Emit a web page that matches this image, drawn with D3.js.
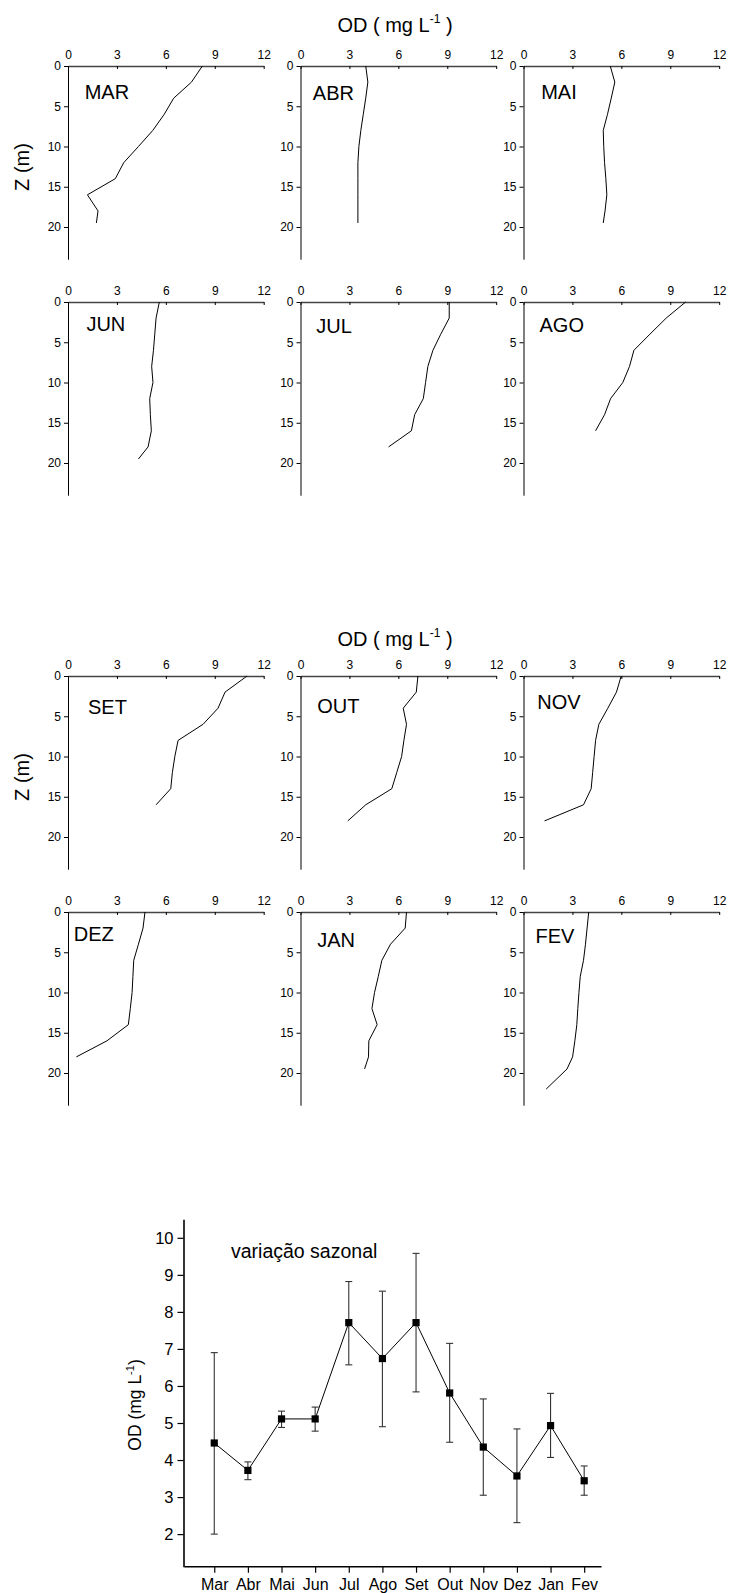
<!DOCTYPE html>
<html><head><meta charset="utf-8">
<script src="https://cdn.jsdelivr.net/npm/d3@7"></script>
<style>
body{margin:0;background:#fff}
svg{display:block;font-family:"Liberation Sans",Arial,Helvetica,sans-serif}
text{white-space:pre}
</style></head><body><div id="chart"></div>
<script>
// ---------- Depth profiles (OD mg/L vs depth m) ----------
const profileNames = ["MAR","ABR","MAI","JUN","JUL","AGO","SET","OUT","NOV","DEZ","JAN","FEV"];
const depthMAR = [0,2,4,6,8,10,12,14,16,18,19.5];
const odMAR    = [8.24,7.57,6.48,5.9,5.2,4.32,3.42,2.9,1.19,1.84,1.74];
const depthABR = [0,2,4,6,8,10,12,14,16,18,19.5];
const odABR    = [4.0,4.13,4.0,3.85,3.7,3.58,3.52,3.52,3.52,3.52,3.52];
const depthMAI = [0,2,4,6,8,10,12,14,16,18,19.5];
const odMAI    = [5.32,5.6,5.38,5.15,4.89,4.92,4.97,5.05,5.11,5.0,4.89];
const depthJUN = [0,2,4,6,8,10,12,14,16,18,19.5];
const odJUN    = [5.6,5.4,5.32,5.24,5.13,5.21,5.01,5.05,5.11,4.91,4.32];
const depthJUL = [0,2,4,6,8,10,12,14,16,18];
const odJUL    = [9.12,9.12,8.6,8.12,7.81,7.67,7.53,7.0,6.8,5.4];
const depthAGO = [0,2,4,6,8,10,12,14,16];
const odAGO    = [9.94,8.75,7.75,6.77,6.5,6.09,5.34,4.97,4.42];
const depthSET = [0,2,4,6,8,10,12,14,16];
const odSET    = [10.98,9.63,9.2,8.28,6.75,6.55,6.4,6.3,5.4];
const depthOUT = [0,2,4,6,8,10,12,14,16,18];
const odOUT    = [7.2,7.1,6.3,6.5,6.34,6.2,5.9,5.6,4.0,2.9];
const depthNOV = [0,2,4,6,8,10,12,14,16,18];
const odNOV    = [5.99,5.7,5.17,4.62,4.42,4.33,4.24,4.15,3.68,1.29];
const depthDEZ = [0,2,4,6,8,10,12,14,16,18];
const odDEZ    = [4.72,4.6,4.32,4.03,3.98,3.93,3.82,3.7,2.39,0.51];
const depthJAN = [0,2,4,6,8,10,12,14,16,18,19.5];
const odJAN    = [6.5,6.42,5.52,4.99,4.77,4.54,4.38,4.7,4.19,4.17,3.93];
const depthFEV = [0,2,4,6,8,10,12,14,16,18,19.5,22];
const odFEV    = [4.0,3.9,3.8,3.68,3.48,3.4,3.33,3.27,3.15,3.01,2.67,1.39];

const odTicks = [0,3,6,9,12];
const depthTicks = [0,5,10,15,20];

// ---------- Seasonal variation ----------
const seasonMonths = ["Mar","Abr","Mai","Jun","Jul","Ago","Set","Out","Nov","Dez","Jan","Fev"];
const seasonMean  = [4.46,3.72,5.11,5.11,7.71,6.74,7.71,5.81,4.35,3.57,4.93,3.44];
const seasonUpper = [6.90,3.95,5.32,5.43,8.82,8.56,9.58,7.15,5.65,4.84,5.80,3.84];
const seasonLower = [2.00,3.47,4.88,4.78,6.57,4.90,5.84,4.48,3.05,2.31,4.07,3.05];
const seasonTicks = [2,3,4,5,6,7,8,9,10];

const profiles = [
  {name:"MAR", depth:depthMAR, od:odMAR},
  {name:"ABR", depth:depthABR, od:odABR},
  {name:"MAI", depth:depthMAI, od:odMAI},
  {name:"JUN", depth:depthJUN, od:odJUN},
  {name:"JUL", depth:depthJUL, od:odJUL},
  {name:"AGO", depth:depthAGO, od:odAGO},
  {name:"SET", depth:depthSET, od:odSET},
  {name:"OUT", depth:depthOUT, od:odOUT},
  {name:"NOV", depth:depthNOV, od:odNOV},
  {name:"DEZ", depth:depthDEZ, od:odDEZ},
  {name:"JAN", depth:depthJAN, od:odJAN},
  {name:"FEV", depth:depthFEV, od:odFEV}
];

const W = 731, H = 1593;
const svg = d3.select("#chart").append("svg").attr("width", W).attr("height", H);
svg.append("rect").attr("width", W).attr("height", H).attr("fill", "#fff");

// layout
const colX = [68, 300.5, 523.5];
const rowY = [66, 302, 676, 912];
const pW = 195.7, pH = 193.2;
const labelOff = [[16.7,33],[12.3,33.7],[17.7,33],[18.4,29],[15.7,31.3],[16,29.7],
                  [20,37.7],[16.7,37],[13.7,33],[5.7,29.4],[16.7,35.4],[12,31]];

function styleAxis(g, size){
  g.attr("font-family", null).attr("font-size", size);
  g.selectAll("text").attr("fill", "#000");
  g.selectAll("line,path").attr("stroke", "#000");
}

profiles.forEach((p, i) => {
  const r = Math.floor(i / 3), c = i % 3;
  const g = svg.append("g").attr("transform", `translate(${colX[c]},${rowY[r]})`);
  const x = d3.scaleLinear().domain([0, 12]).range([0, pW]);
  const y = d3.scaleLinear().domain([0, 24]).range([0, pH]);
  const ax = g.append("g").call(d3.axisTop(x).tickValues(odTicks).tickSizeInner(-3).tickSizeOuter(0).tickPadding(7));
  styleAxis(ax, 12);
  ax.select(".domain").attr("stroke", "#444").attr("stroke-width", 1.3);
  const ay = g.append("g").call(d3.axisLeft(y).tickValues(depthTicks).tickSizeInner(4).tickSizeOuter(0).tickPadding(3));
  styleAxis(ay, 12);
  const pts = p.depth.map((d, k) => ({z: d, v: p.od[k]}));
  g.append("path").datum(pts)
    .attr("fill", "none").attr("stroke", "#000").attr("stroke-width", 1)
    .attr("d", d3.line().x(d => x(d.v)).y(d => y(d.z)));
  g.append("text").attr("x", labelOff[i][0]).attr("y", labelOff[i][1])
    .attr("font-size", 20).text(p.name);
});

// titles and depth labels
function odTitle(cx, by){
  const t = svg.append("text").attr("x", cx).attr("y", by).attr("text-anchor", "middle").attr("font-size", 20);
  t.append("tspan").text("OD ( mg L");
  t.append("tspan").attr("font-size", 12).attr("dy", -9).text("-1");
  t.append("tspan").attr("dy", 9).text(" )");
}
odTitle(395, 31.7);
odTitle(395, 646);
[167, 777].forEach(cy => {
  svg.append("text").attr("transform", `translate(29,${cy}) rotate(-90)`)
    .attr("text-anchor", "middle").attr("font-size", 20).text("Z (m)");
});

// ---------- Seasonal chart ----------
const bx = d3.scaleLinear().domain([0.1, 12.5]).range([184, 601]);
const by = d3.scaleLinear().domain([1.12, 10.5]).range([1566.7, 1219.3]);

const gy = svg.append("g").attr("transform", "translate(183.5,0)")
  .call(d3.axisLeft(by).tickValues(seasonTicks).tickSizeInner(6).tickSizeOuter(0).tickPadding(4));
styleAxis(gy, 16.5);
gy.select(".domain").attr("stroke-width", 1.6);
gy.selectAll(".tick line").attr("stroke-width", 1.2);

const gx = svg.append("g").attr("transform", "translate(0,1566.2)")
  .call(d3.axisBottom(bx).tickValues(d3.range(1, 13)).tickFormat(d => seasonMonths[d - 1])
    .tickSizeInner(6.5).tickSizeOuter(0).tickPadding(6));
styleAxis(gx, 16);
gx.select(".domain").attr("stroke-width", 1.6);
gx.selectAll(".tick line").attr("stroke-width", 1.2);

const sdata = seasonMonths.map((m, i) => ({i: i + 1, m: seasonMean[i], hi: seasonUpper[i], lo: seasonLower[i]}));
const eg = svg.append("g").attr("stroke", "#333").attr("stroke-width", 1.1);
sdata.forEach(d => {
  const cx = bx(d.i);
  eg.append("line").attr("x1", cx).attr("x2", cx).attr("y1", by(d.lo)).attr("y2", by(d.hi));
  eg.append("line").attr("x1", cx - 3.5).attr("x2", cx + 3.5).attr("y1", by(d.lo)).attr("y2", by(d.lo));
  eg.append("line").attr("x1", cx - 3.5).attr("x2", cx + 3.5).attr("y1", by(d.hi)).attr("y2", by(d.hi));
});
svg.append("path").datum(sdata).attr("fill", "none").attr("stroke", "#000").attr("stroke-width", 1)
  .attr("d", d3.line().x(d => bx(d.i)).y(d => by(d.m)));
svg.append("g").selectAll("rect").data(sdata).join("rect")
  .attr("x", d => bx(d.i) - 3.6).attr("y", d => by(d.m) - 3.6)
  .attr("width", 7.2).attr("height", 7.2).attr("fill", "#000");

svg.append("text").attr("x", 231).attr("y", 1258).attr("font-size", 19.5).text("variação sazonal");

const yl = svg.append("text").attr("transform", "translate(141,1405) rotate(-90)")
  .attr("text-anchor", "middle").attr("font-size", 17.5);
yl.append("tspan").text("OD (mg L");
yl.append("tspan").attr("font-size", 11).attr("dy", -7).text("-1");
yl.append("tspan").attr("dy", 7).text(")");
</script></body></html>
